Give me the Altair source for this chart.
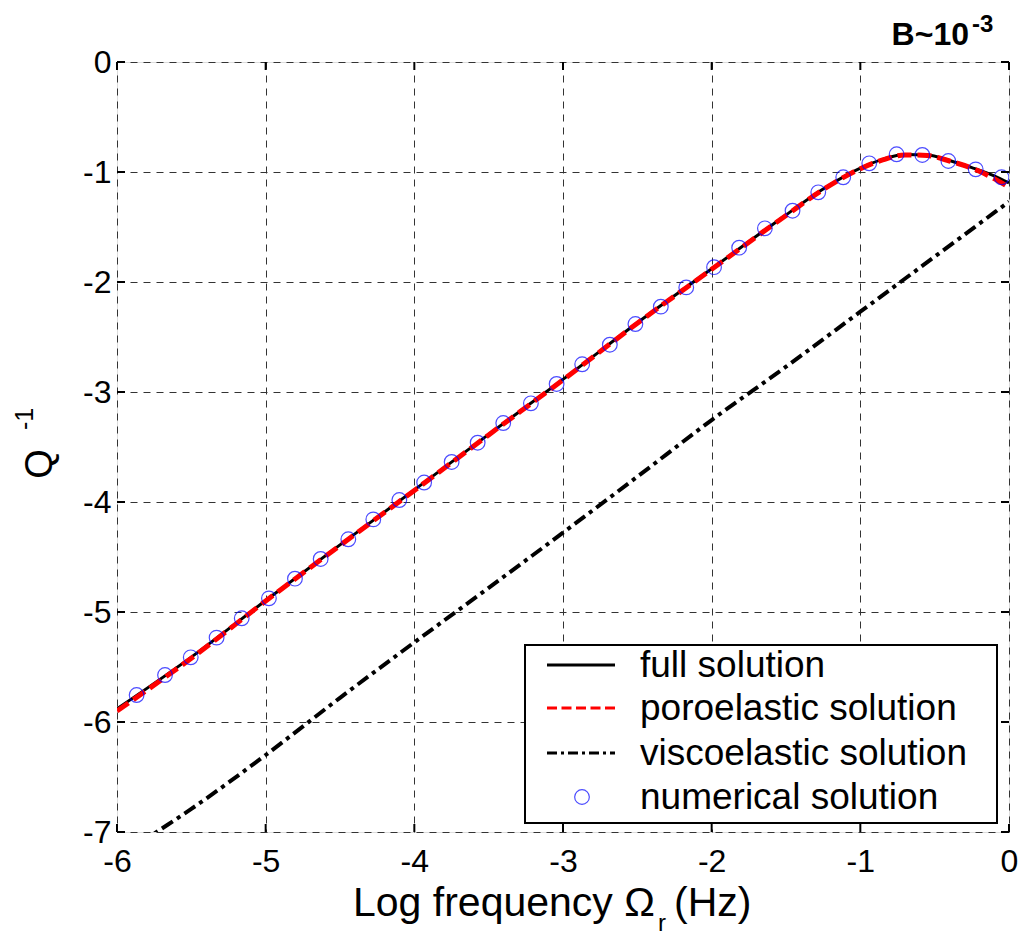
import altair as alt
import pandas as pd

# ---- data ----
x_ticks = [-6, -5, -4, -3, -2, -1, 0]
y_ticks = [0, -1, -2, -3, -4, -5, -6, -7]

full_x = [-6.0, -5.5, -5.0, -4.5, -4.0, -3.5, -3.0, -2.5, -2.0, -1.5, -1.25, -1.0, -0.85, -0.7, -0.55, -0.4, -0.25, -0.1, 0.0]
full_y = [-5.88, -5.41, -4.895, -4.39, -3.89, -3.385, -2.885, -2.37, -1.88, -1.39, -1.155, -0.965, -0.885, -0.84, -0.845, -0.895, -0.96, -1.035, -1.10]

poro_x = [-6.0, -5.5, -5.0, -4.5, -4.0, -3.5, -3.0, -2.5, -2.0, -1.5, -1.25, -1.0, -0.85, -0.7, -0.55, -0.4, -0.25, -0.1, 0.0]
poro_y = [-5.9, -5.42, -4.9, -4.395, -3.895, -3.39, -2.89, -2.375, -1.885, -1.395, -1.16, -0.97, -0.89, -0.845, -0.85, -0.9, -0.965, -1.06, -1.14]

visco_x = [-6.0, -5.733, -5.5, -5.0, -4.5, -4.1, -3.5, -3.0, -2.5, -2.0, -1.5, -1.0, -0.5, 0.0]
visco_y = [-7.24, -7.0, -6.79, -6.30, -5.78, -5.376, -4.78, -4.279, -3.77, -3.255, -2.77, -2.27, -1.77, -1.27]

num_x = [-5.868, -5.677, -5.504, -5.330, -5.161, -4.978, -4.803, -4.630, -4.444, -4.276,
         -4.101, -3.934, -3.749, -3.574, -3.402, -3.216, -3.043, -2.871, -2.685, -2.513,
         -2.342, -2.171, -1.984, -1.815, -1.642, -1.456, -1.283, -1.115, -0.940, -0.756,
         -0.583, -0.408, -0.224, -0.050]
num_y = [-5.755, -5.573, -5.412, -5.233, -5.057, -4.876, -4.697, -4.518, -4.339, -4.158,
         -3.982, -3.823, -3.636, -3.461, -3.282, -3.103, -2.927, -2.748, -2.570, -2.382,
         -2.224, -2.049, -1.865, -1.688, -1.512, -1.352, -1.185, -1.048, -0.921, -0.839,
         -0.845, -0.900, -0.976, -1.048]

legend_labels = ["full solution", "poroelastic solution", "viscoelastic solution", "numerical solution"]

W, H = 892, 770
FONT = "Liberation Sans"

xs = alt.Scale(domain=[-6, 0], nice=False, zero=False)
ys = alt.Scale(domain=[-7, 0], nice=False, zero=False)

full_df = pd.DataFrame({"x": full_x, "y": full_y})
poro_df = pd.DataFrame({"x": poro_x, "y": poro_y})
visco_df = pd.DataFrame({"x": visco_x, "y": visco_y})
num_df = pd.DataFrame({"x": num_x, "y": num_y})
xt_df = pd.DataFrame({"t": x_ticks})
yt_df = pd.DataFrame({"t": y_ticks})
one = pd.DataFrame({"a": [0]})

LABEL_EXPR = "datum.value == 0 ? '0' : '-' + format(abs(datum.value), 'd')"

xaxis = alt.Axis(values=x_ticks, title=None, domain=False, ticks=False, tickSize=0,
                 labelExpr=LABEL_EXPR,
                 labelFontSize=32, labelFont=FONT, labelColor="black", labelPadding=14,
                 labelFlush=False, labelOverlap=False,
                 grid=True, gridColor="#333333", gridDash=[7, 6], gridWidth=1)
yaxis = alt.Axis(values=y_ticks, title=None, domain=False, ticks=False, tickSize=0,
                 labelExpr=LABEL_EXPR,
                 labelFontSize=32, labelFont=FONT, labelColor="black", labelPadding=6,
                 labelFlush=False, labelOverlap=False,
                 grid=True, gridColor="#333333", gridDash=[7, 6], gridWidth=1)

base_grid = alt.Chart(num_df).mark_point(opacity=0).encode(
    x=alt.X("x:Q", scale=xs, axis=xaxis),
    y=alt.Y("y:Q", scale=ys, axis=yaxis),
)

full_line = alt.Chart(full_df).mark_line(color="black", strokeWidth=3, clip=True,
                                         interpolate="monotone").encode(
    x=alt.X("x:Q", scale=xs), y=alt.Y("y:Q", scale=ys))
poro_line = alt.Chart(poro_df).mark_line(color="#ff0000", strokeWidth=5, strokeDash=[14, 6],
                                         clip=True, interpolate="monotone").encode(
    x=alt.X("x:Q", scale=xs), y=alt.Y("y:Q", scale=ys))
visco_line = alt.Chart(visco_df).mark_line(color="black", strokeWidth=4, strokeDash=[13, 5, 4, 5],
                                           clip=True, interpolate="monotone").encode(
    x=alt.X("x:Q", scale=xs), y=alt.Y("y:Q", scale=ys))
num_pts = alt.Chart(num_df).mark_point(shape="circle", filled=False, color="#0000ff",
                                       strokeWidth=1.2, size=215, clip=True).encode(
    x=alt.X("x:Q", scale=xs), y=alt.Y("y:Q", scale=ys))

# inward ticks on all four sides
tick_b = alt.Chart(xt_df).mark_rule(color="black", strokeWidth=2).encode(
    x=alt.X("t:Q", scale=xs), y=alt.value(H), y2=alt.value(H - 8))
tick_t = alt.Chart(xt_df).mark_rule(color="black", strokeWidth=2).encode(
    x=alt.X("t:Q", scale=xs), y=alt.value(0), y2=alt.value(8))
tick_l = alt.Chart(yt_df).mark_rule(color="black", strokeWidth=2).encode(
    y=alt.Y("t:Q", scale=ys), x=alt.value(0), x2=alt.value(8))
tick_r = alt.Chart(yt_df).mark_rule(color="black", strokeWidth=2).encode(
    y=alt.Y("t:Q", scale=ys), x=alt.value(W), x2=alt.value(W - 8))

# legend
leg_box = alt.Chart(one).mark_rect(fill="white", stroke="black", strokeWidth=2).encode(
    x=alt.value(408), x2=alt.value(880), y=alt.value(583), y2=alt.value(761))
row_c = [603, 646, 691, 735]
leg_full = alt.Chart(one).mark_rule(color="black", strokeWidth=3).encode(
    x=alt.value(430), x2=alt.value(498), y=alt.value(row_c[0]))
leg_poro = alt.Chart(one).mark_rule(color="#ff0000", strokeWidth=3, strokeDash=[10, 4.5]).encode(
    x=alt.value(430), x2=alt.value(498), y=alt.value(row_c[1]))
leg_visco = alt.Chart(one).mark_rule(color="black", strokeWidth=3, strokeDash=[10, 4, 3, 4]).encode(
    x=alt.value(430), x2=alt.value(498), y=alt.value(row_c[2]))
leg_circ = alt.Chart(one).mark_point(shape="circle", filled=False, color="#0000ff",
                                     strokeWidth=1.2, size=215).encode(
    x=alt.value(465), y=alt.value(row_c[3]))
leg_texts = [
    alt.Chart(one).mark_text(text=lab, align="left", baseline="alphabetic", font=FONT,
                             fontSize=37, color="black").encode(
        x=alt.value(523), y=alt.value(c + 12))
    for lab, c in zip(legend_labels, row_c)
]

# titles
t_b = alt.Chart(one).mark_text(text="B~10", align="right", baseline="alphabetic", font=FONT,
                               fontSize=32, fontWeight="bold", color="black").encode(
    x=alt.value(852), y=alt.value(-17))
t_b_sup = alt.Chart(one).mark_text(text="-3", align="left", baseline="alphabetic", font=FONT,
                                   fontSize=24, fontWeight="bold", color="black").encode(
    x=alt.value(855), y=alt.value(-30))

xt_main = alt.Chart(one).mark_text(text="Log frequency Ω", align="left", baseline="alphabetic",
                                   font=FONT, fontSize=41, color="black").encode(
    x=alt.value(236), y=alt.value(854))
xt_sub = alt.Chart(one).mark_text(text="r", align="left", baseline="alphabetic",
                                  font=FONT, fontSize=24, color="black").encode(
    x=alt.value(541), y=alt.value(869))
xt_end = alt.Chart(one).mark_text(text="(Hz)", align="left", baseline="alphabetic",
                                  font=FONT, fontSize=41, color="black").encode(
    x=alt.value(557), y=alt.value(854))

yt_q = alt.Chart(one).mark_text(text="Q", align="center", baseline="alphabetic", angle=270,
                                font=FONT, fontSize=38, color="black").encode(
    x=alt.value(-65), y=alt.value(402))
yt_sup = alt.Chart(one).mark_text(text="-1", align="center", baseline="alphabetic", angle=270,
                                  font=FONT, fontSize=25, color="black").encode(
    x=alt.value(-84), y=alt.value(357))

chart = alt.layer(
    base_grid, full_line, poro_line, visco_line, num_pts,
    tick_b, tick_t, tick_l, tick_r,
    leg_box, leg_full, leg_poro, leg_visco, leg_circ, *leg_texts,
    t_b, t_b_sup, xt_main, xt_sub, xt_end, yt_q, yt_sup,
).properties(
    width=W, height=H,
    autosize=alt.AutoSizeParams(type="none"),
    padding={"left": 109, "top": 54, "right": 9, "bottom": 104},
).configure_view(
    stroke="black", strokeWidth=3
).configure(background="white")

chart.save("out.html", embed_options={"renderer": "svg", "actions": False})
